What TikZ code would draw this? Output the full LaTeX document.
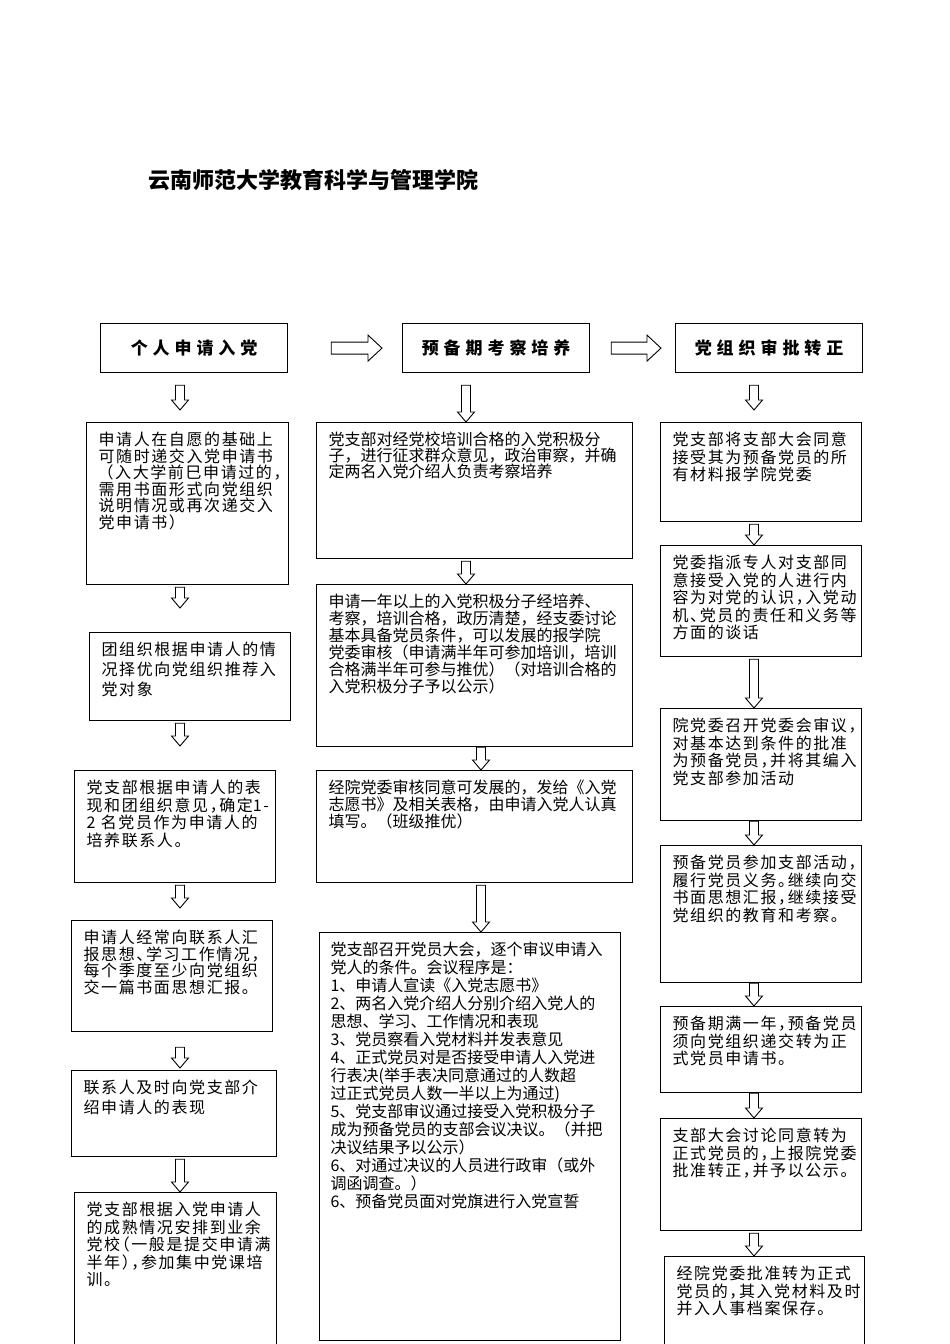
\documentclass[tikz,border=0pt]{standalone}
\usepackage{fontspec}
\setmainfont{Noto Sans CJK SC}
\newfontfamily\widefont{Noto Sans CJK SC}[LetterSpace=10, RawFeature=+halt]
\newfontfamily\headfont{Noto Sans CJK SC}[LetterSpace=29]
\usetikzlibrary{calc}
\tikzset {
    box/.style 2 args = {
        draw, line width = 1.2pt, fill = white, anchor = north west,
        inner xsep = 12pt, inner ysep = 11pt, align = left,
        text width = #1, text height = 12pt, text depth = #2
    },
    wide box/.style 2 args = {box = {#1}{#2}, font = \widefont\fontsize{16}{17.5}\selectfont},
    plain box/.style 2 args = {box = {#1}{#2}, font = \fontsize{16}{17}\selectfont},
    title box/.style = {
        draw, line width = 1.2pt, fill = white, anchor = north west,
        minimum width = 187pt, minimum height = 49pt, inner sep = 0pt,
        font = \headfont\bfseries\fontsize{17}{17}\selectfont
    },
    hollow/.style = {draw, line width = 0.9pt, fill = white, line join = miter},
}
% hollow block arrows: x, upper node, lower node, gap at top, gap at bottom
\newcommand{\hollowdown}[5]{%
    \draw [hollow] let \p1 = (#2.south), \p2 = (#3.north) in
        (#1pt - 4.5pt, \y1 - #4pt) -- (#1pt + 4.5pt, \y1 - #4pt)
        -- (#1pt + 4.5pt, \y2 + #5pt + 10pt) -- (#1pt + 8.5pt, \y2 + #5pt + 10pt)
        -- (#1pt, \y2 + #5pt) -- (#1pt - 8.5pt, \y2 + #5pt + 10pt)
        -- (#1pt - 4.5pt, \y2 + #5pt + 10pt) -- cycle;
}
\newcommand{\hollowright}[4]{%
    \draw [hollow] let \p1 = (#1.east), \p2 = (#2.west) in
        (\x1 + #3pt, \y1 + 6pt) -- (\x2 - #4pt - 14pt, \y1 + 6pt)
        -- (\x2 - #4pt - 14pt, \y1 + 13pt) -- (\x2 - #4pt, \y1)
        -- (\x2 - #4pt - 14pt, \y1 - 13pt) -- (\x2 - #4pt - 14pt, \y1 - 6pt)
        -- (\x1 + #3pt, \y1 - 6pt) -- cycle;
}
\begin{document}
\begin{tikzpicture}[x = 1pt, y = 1pt]
    \path [use as bounding box, fill = white] (0, 0) rectangle (950, -1344);
    \node [anchor = west, font = \bfseries\fontsize{22}{22}\selectfont] (school) at (145, -180) {云南师范大学教育科学与管理学院};
    % top row
    \node [title box] (apply) at (100, -323) {个人申请入党};
    \node [title box] (prep) at (402, -323) {预备期考察培养};
    \node [title box] (approve) at (675, -323) {党组织审批转正};
    % left column
    \node [wide box = {178pt}{128pt}, font = \widefont\fontsize{16}{16.5}\selectfont] (l1) at (86, -422) {申请人在自愿的基础上\\
        可随时递交入党申请书\\
        \hspace*{7pt}（入大学前巳申请过的，\\
        需用书面形式向党组织\\
        说明情况或再次递交入\\
        党申请书）};
    \node [wide box = {177pt}{54pt}, font = \widefont\fontsize{16}{20}\selectfont] (l2) at (89, -632) {团组织根据申请人的情\\
        况择优向党组织推荐入\\
        党对象};
    \node [wide box = {177pt}{78pt}] (l3) at (74, -770) {党支部根据申请人的表\\
        现和团组织意见，确定\mbox{1-}\\
        2 名党员作为申请人的\\
        培养联系人。};
    \node [wide box = {177pt}{77pt}, font = \widefont\fontsize{16}{16.5}\selectfont] (l4) at (71, -920) {申请人经常向联系人汇\\
        报思想、学习工作情况，\\
        每个季度至少向党组织\\
        交一篇书面思想汇报。};
    \node [wide box = {181pt}{52pt}, font = \widefont\fontsize{16}{20}\selectfont] (l5) at (71, -1070) {联系人及时向党支部介\\
        绍申请人的表现};
    \node [wide box = {178pt}{128pt}] (l6) at (74, -1192) {党支部根据入党申请人\\
        的成熟情况安排到业余\\
        党校（一般是提交申请满\\
        半年），参加集中党课培\\
        训。};
    % middle column
    \node [plain box = {292pt}{102pt}, font = \fontsize{16}{16}\selectfont] (m1) at (316, -422) {党支部对经党校培训合格的入党积极分\\
        子，进行征求群众意见，政治审察，并确\\
        定两名入党介绍人负责考察培养};
    \node [plain box = {292pt}{128pt}] (m2) at (316, -584) {申请一年以上的入党积极分子经培养、\\
        考察，培训合格，政历清楚，经支委讨论\\
        基本具备党员条件，可以发展的报学院\\
        党委审核（申请满半年可参加培训，培训\\
        合格满半年可参与推优）（对培训合格的\\
        入党积极分子予以公示）};
    \node [plain box = {292pt}{78pt}] (m3) at (316, -770) {经院党委审核同意可发展的，发给《入党\\
        志愿书》及相关表格，由申请入党人认真\\
        填写。（班级推优）};
    \node [plain box = {279pt}{374pt}, inner xsep = 11pt, font = \fontsize{16}{18}\selectfont] (m4) at (319, -932) {党支部召开党员大会，逐个审议申请入\\
        党人的条件。会议程序是：\\
        1、申请人宣读《入党志愿书》\\
        2、两名入党介绍人分别介绍入党人的\\
        思想、学习、工作情况和表现\\
        3、党员察看入党材料并发表意见\\
        4、正式党员对是否接受申请人入党进\\
        行表决(举手表决同意通过的人数超\\
        过正式党员人数一半以上为通过)\\
        5、党支部审议通过接受入党积极分子\\
        成为预备党员的支部会议决议。（并把\\
        决议结果予以公示）\\
        6、对通过决议的人员进行政审（或外\\
        调函调查。）\\
        6、预备党员面对党旗进行入党宣誓};
    % right column
    \node [wide box = {177pt}{65pt}] (r1) at (660, -422) {党支部将支部大会同意\\
        接受其为预备党员的所\\
        有材料报学院党委};
    \node [wide box = {177pt}{77pt}] (r2) at (660, -545) {党委指派专人对支部同\\
        意接受入党的人进行内\\
        容为对党的认识，入党动\\
        机、党员的责任和义务等\\
        方面的谈话};
    \node [wide box = {177pt}{78pt}] (r3) at (660, -708) {院党委召开党委会审议，\\
        对基本达到条件的批准\\
        为预备党员，并将其编入\\
        党支部参加活动};
    \node [wide box = {177pt}{103pt}] (r4) at (660, -845) {预备党员参加支部活动，\\
        履行党员义务。继续向交\\
        书面思想汇报，继续接受\\
        党组织的教育和考察。};
    \node [wide box = {177pt}{52pt}] (r5) at (660, -1006) {预备期满一年，预备党员\\
        须向党组织递交转为正\\
        式党员申请书。};
    \node [wide box = {177pt}{78pt}] (r6) at (660, -1118) {支部大会讨论同意转为\\
        正式党员的，上报院党委\\
        批准转正，并予以公示。};
    \node [wide box = {176pt}{66pt}] (r7) at (664, -1256) {经院党委批准转为正式\\
        党员的，其入党材料及时\\
        并入人事档案保存。};
    % arrows
    \hollowright{apply}{prep}{43}{20}
    \hollowright{prep}{approve}{21}{14}
    \hollowdown{180}{apply}{l1}{12}{12}
    \hollowdown{466}{prep}{m1}{12}{0}
    \hollowdown{754}{approve}{r1}{12}{12}
    \hollowdown{180}{l1}{l2}{2}{24}
    \hollowdown{180}{l2}{l3}{2}{24}
    \hollowdown{180}{l3}{l4}{2}{12}
    \hollowdown{180}{l4}{l5}{15}{2}
    \hollowdown{180}{l5}{l6}{2}{0}
    \hollowdown{466}{m1}{m2}{2}{0}
    \hollowdown{481}{m2}{m3}{0}{0}
    \hollowdown{481}{m3}{m4}{2}{0}
    \hollowdown{754}{r1}{r2}{2}{0}
    \hollowdown{754}{r2}{r3}{2}{0}
    \hollowdown{754}{r3}{r4}{0}{0}
    \hollowdown{754}{r4}{r5}{0}{0}
    \hollowdown{754}{r5}{r6}{0}{0}
    \hollowdown{754}{r6}{r7}{2}{0}
\end{tikzpicture}
\end{document}
